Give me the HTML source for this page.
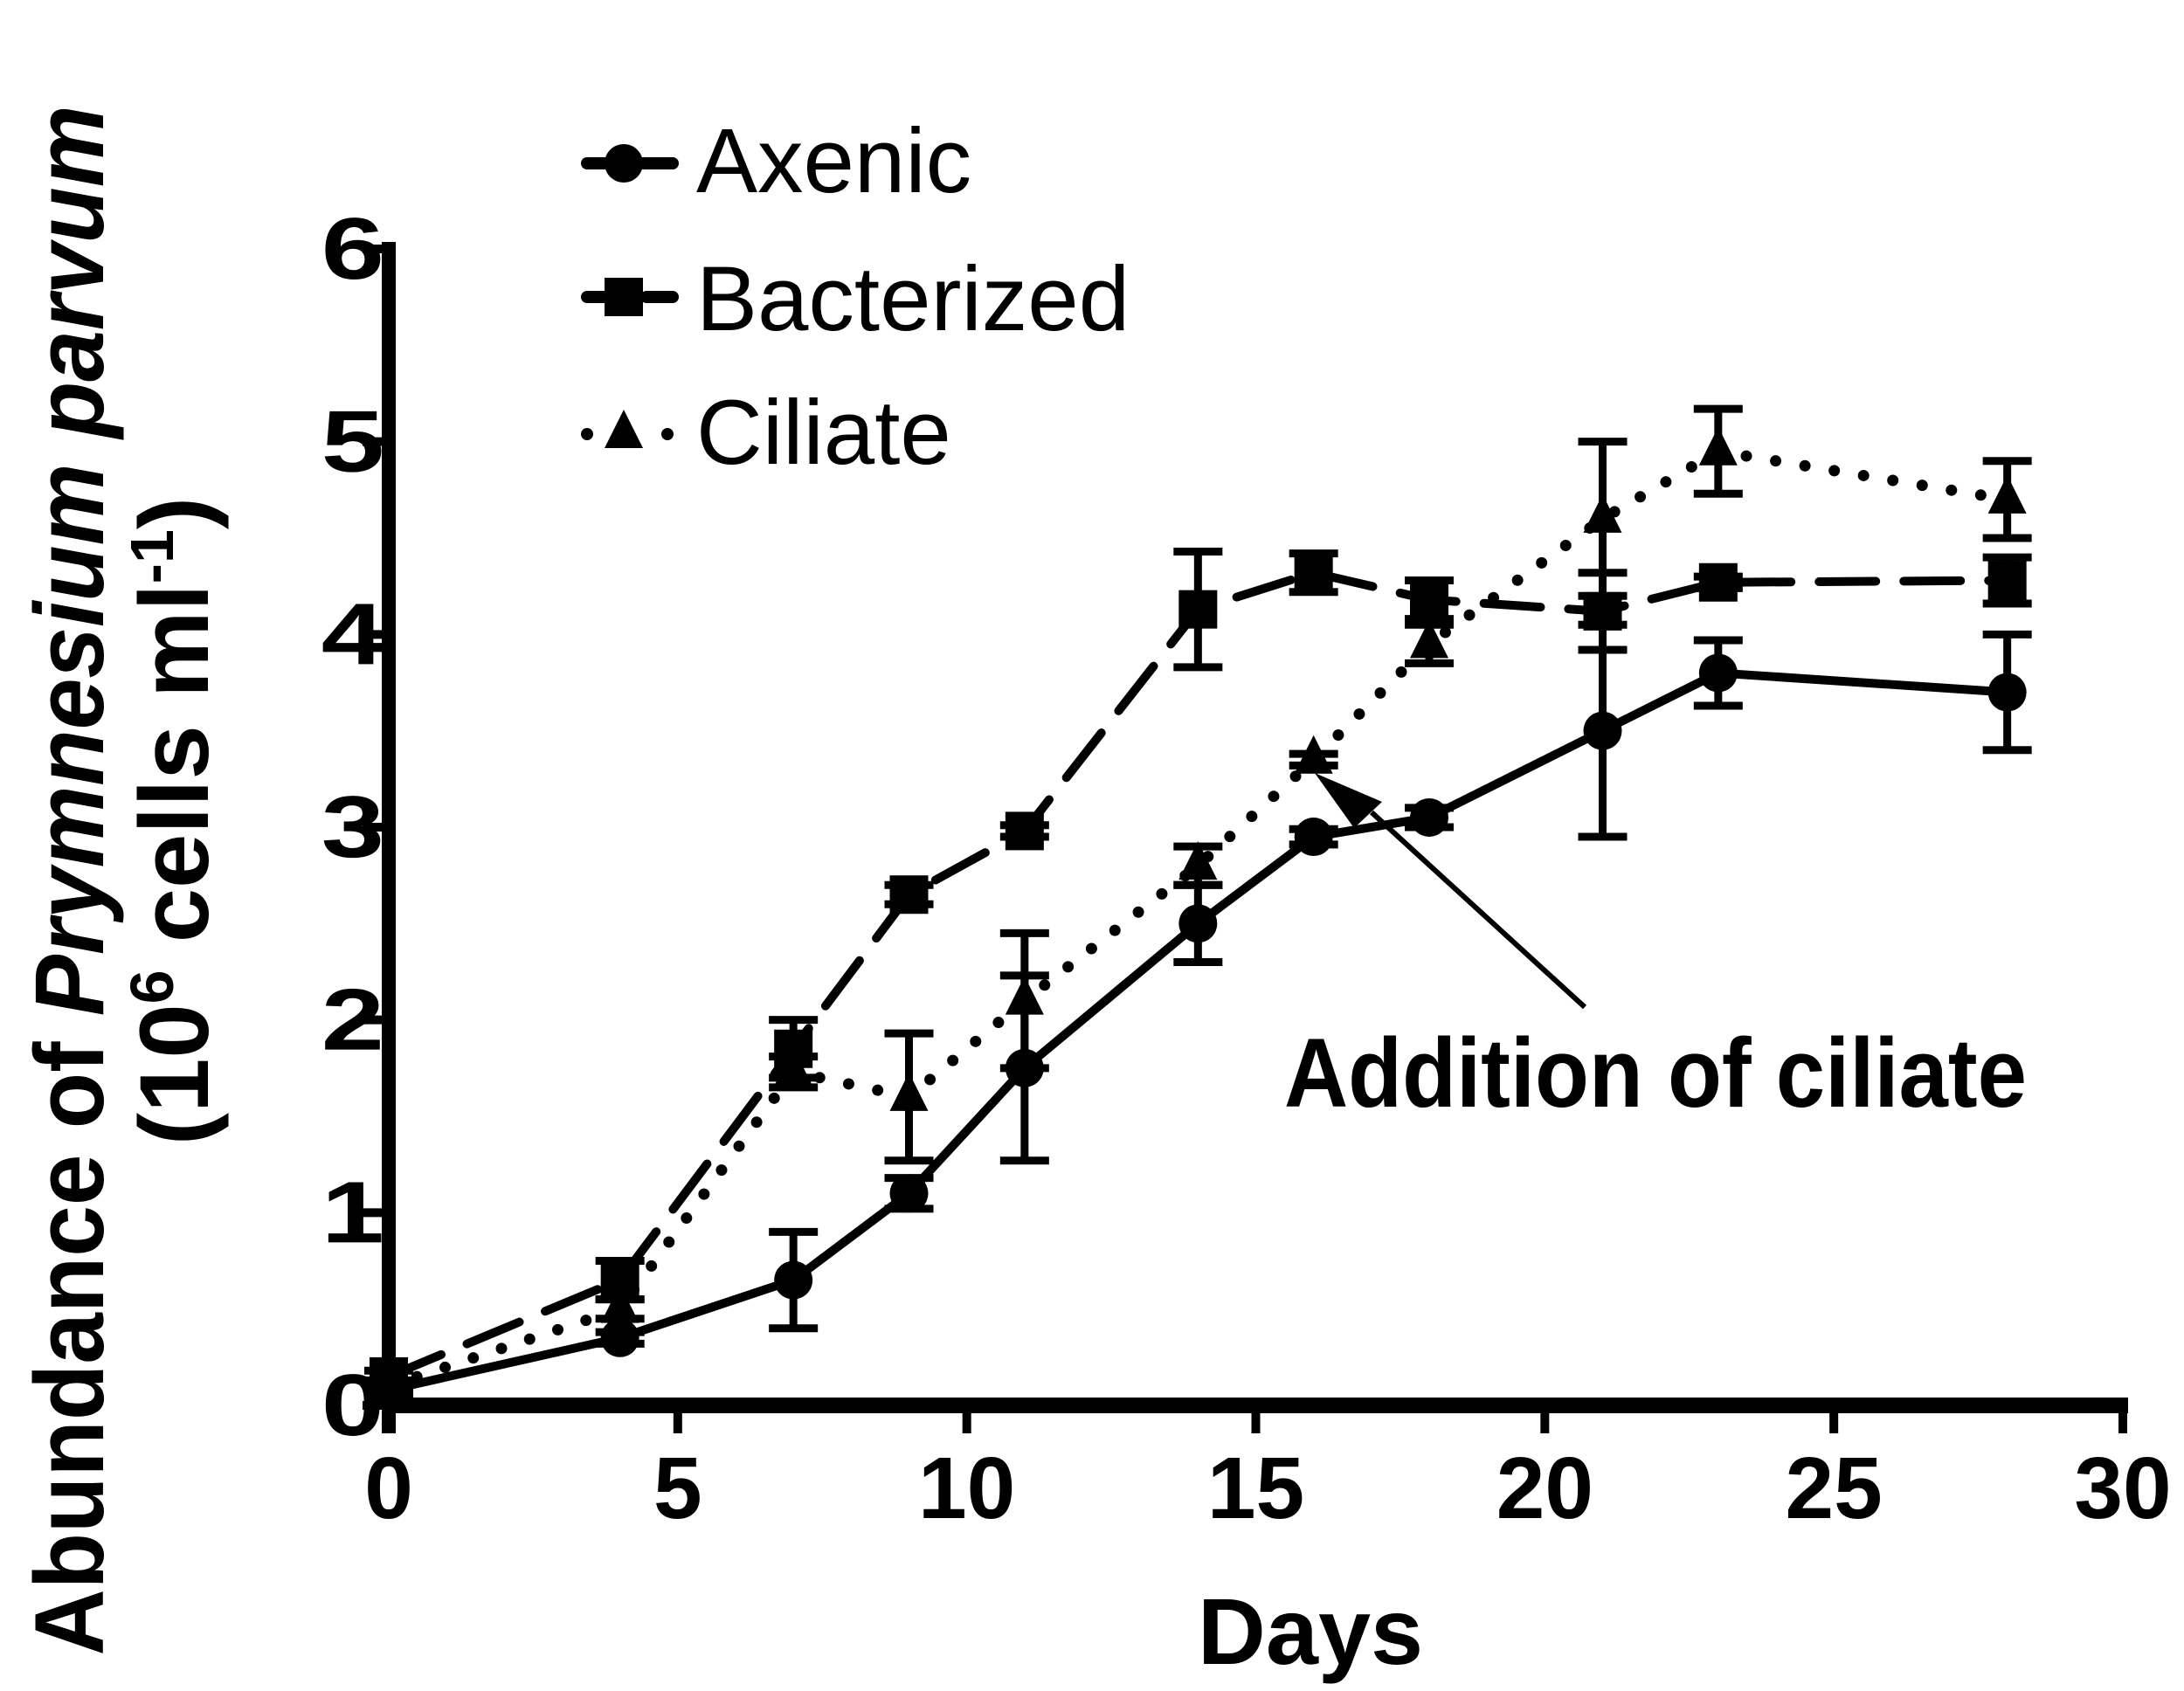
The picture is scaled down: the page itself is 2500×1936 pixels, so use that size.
<!DOCTYPE html>
<html><head><meta charset="utf-8">
<style>
html,body{margin:0;padding:0;background:#fff;}
svg{display:block;font-family:"Liberation Sans",Arial,sans-serif;}
</style></head>
<body>
<svg id="chart" width="2500" height="1936" viewBox="0 0 2500 1936" xmlns="http://www.w3.org/2000/svg">
<g id="plot"></g>
</svg>
<script>
const days = [0, 4, 7, 9, 11, 14, 16, 18, 21, 23, 28];
const axenicVals = [0.08, 0.35, 0.65, 1.1, 1.75, 2.5, 2.95, 3.05, 3.5, 3.8, 3.7];
const axenicErr  = [0.03, 0.03, 0.25, 0.08, 0.48, 0.2, 0.04, 0.05, 0.55, 0.17, 0.3];
const bactVals = [0.15, 0.65, 1.85, 2.65, 2.98, 4.13, 4.32, 4.18, 4.12, 4.27, 4.28];
const bactErr  = [0.03, 0.1, 0.15, 0.05, 0.03, 0.3, 0.1, 0.1, 0.2, 0.03, 0.12];
const ciliVals = [0.1, 0.5, 1.73, 1.6, 2.1, 2.8, 3.35, 3.95, 4.6, 4.95, 4.7];
const ciliErr  = [0.03, 0.05, 0.08, 0.33, 0.35, 0.1, 0.03, 0.1, 0.4, 0.22, 0.2];
const xTicks = [0, 5, 10, 15, 20, 25, 30];
const yTicks = [0, 1, 2, 3, 4, 5, 6];

const NS = "http://www.w3.org/2000/svg";
const g = document.getElementById('plot');
const X0 = 445, X1 = 2430, Y0 = 1609, Y1 = 285;
const xs = d => X0 + (d / 30) * (X1 - X0);
const ys = v => Y0 - (v / 6) * (Y0 - Y1);
function mk(tag, attrs, parent) {
  const e = document.createElementNS(NS, tag);
  for (const k in attrs) e.setAttribute(k, attrs[k]);
  (parent || g).appendChild(e);
  return e;
}

let e;
e = mk('line', {x1: X0, y1: Y1 - 8, x2: X0, y2: Y0 + 32, stroke: '#000', 'stroke-width': 16});


e = mk('line', {x1: X0 - 8, y1: Y0, x2: X1 + 6, y2: Y0, stroke: '#000', 'stroke-width': 18});



xTicks.forEach(t => {
  const x = xs(t);
  let tk = mk('line', {x1: x, y1: Y0, x2: x, y2: Y0 + 32, stroke: '#000', 'stroke-width': 10});
  
  
  let tl = mk('text', {x: x, y: 1738, 'text-anchor': 'middle', 'font-size': 100, 'font-weight': 'bold'});
  tl.textContent = t;
  
  
});
yTicks.forEach(t => {
  const y = ys(t);
  let tk = mk('line', {x1: X0 - 30, y1: y, x2: X0, y2: y, stroke: '#000', 'stroke-width': 10});
  
  
  let tl = mk('text', {x: 440, y: y + 34, 'text-anchor': 'end', 'font-size': 100, 'font-weight': 'bold', transform: `translate(440,0) scale(1.3,1) translate(-440,0)`});
  tl.textContent = t;
  
  
});

function series(name, vals, errs, dash, cap, marker) {
  const grp = mk('g', {});
  
  
  const pts = days.map((d, i) => xs(d) + ',' + ys(vals[i])).join(' ');
  const ln = mk('polyline', {points: pts, fill: 'none', stroke: '#000', 'stroke-width': dash === '0 34' ? 13 : 10,
    'stroke-dasharray': dash, 'stroke-linecap': cap, 'stroke-linejoin': 'round'}, grp);
  
  
  days.forEach((d, i) => {
    const x = xs(d), yT = ys(vals[i] + errs[i]), yB = ys(vals[i] - errs[i]);
    const eb = mk('path', {d: `M${x},${yT}V${yB}M${x - 28},${yT}H${x + 28}M${x - 28},${yB}H${x + 28}`,
      stroke: '#000', 'stroke-width': 9, fill: 'none'}, grp);
    
    
    const m = marker(x, ys(vals[i]), grp);
    
    
  });
}
const circ = (x, y, p) => mk('circle', {cx: x, cy: y, r: 22, fill: '#000'}, p);
const sq = (x, y, p) => mk('rect', {x: x - 22, y: y - 22, width: 44, height: 44, fill: '#000'}, p);
const tri = (x, y, p) => mk('polygon', {points: `${x},${y - 28} ${x - 22},${y + 16} ${x + 22},${y + 16}`, fill: '#000'}, p);

series('ciliate', ciliVals, ciliErr, '0 34', 'round', tri);
series('bacterized', bactVals, bactErr, '65 32', 'round', sq);
series('axenic', axenicVals, axenicErr, 'none', 'round', circ);

e = mk('line', {x1: 1570, y1: 930, x2: 1814, y2: 1153, stroke: '#000', 'stroke-width': 6});


e = mk('polygon', {points: '1505,885 1582,918 1550,948', fill: '#000'});


e = mk('text', {x: 1470, y: 1267, 'font-size': 112, 'font-weight': 'bold', textLength: 850, lengthAdjust: 'spacingAndGlyphs'});
e.textContent = 'Addition of ciliate';



const legend = [['Axenic', 'none', 'round', circ, 187, 220], ['Bacterized', '40 28', 'round', sq, 340, 378], ['Ciliate', '0 46', 'round', tri, 497, 531]];
legend.forEach(L => {
  const lg = mk('g', {});
  
  
  const ln = mk('line', {x1: 672, y1: L[4], x2: 770, y2: L[4], stroke: '#000', 'stroke-width': 14, 'stroke-dasharray': L[1], 'stroke-linecap': L[2]}, lg);
  
  
  const m = L[3](714, L[4], lg);
  
  
  const t = mk('text', {x: 797, y: L[5], 'font-size': 105}, lg);
  t.textContent = L[0];
  
  
});

e = mk('text', {x: 1500, y: 1905, 'text-anchor': 'middle', 'font-size': 108, 'font-weight': 'bold'});
e.textContent = 'Days';



e = mk('text', {x: 0, y: 0, 'text-anchor': 'middle', 'font-size': 112, 'font-weight': 'bold', transform: 'translate(118,1008) rotate(-90)', textLength: 1775, lengthAdjust: 'spacingAndGlyphs'});
e.innerHTML = 'Abundance of <tspan font-style="italic">Prymnesium parvum</tspan>';


e = mk('text', {x: 0, y: 0, 'text-anchor': 'middle', 'font-size': 112, 'font-weight': 'bold', transform: 'translate(238,940) rotate(-90)'});
e.innerHTML = '(10<tspan font-size="70" dy="-40">6</tspan><tspan dy="40"> cells ml</tspan><tspan font-size="70" dy="-40">-1</tspan><tspan dy="40">)</tspan>';


</script>
</body></html>
